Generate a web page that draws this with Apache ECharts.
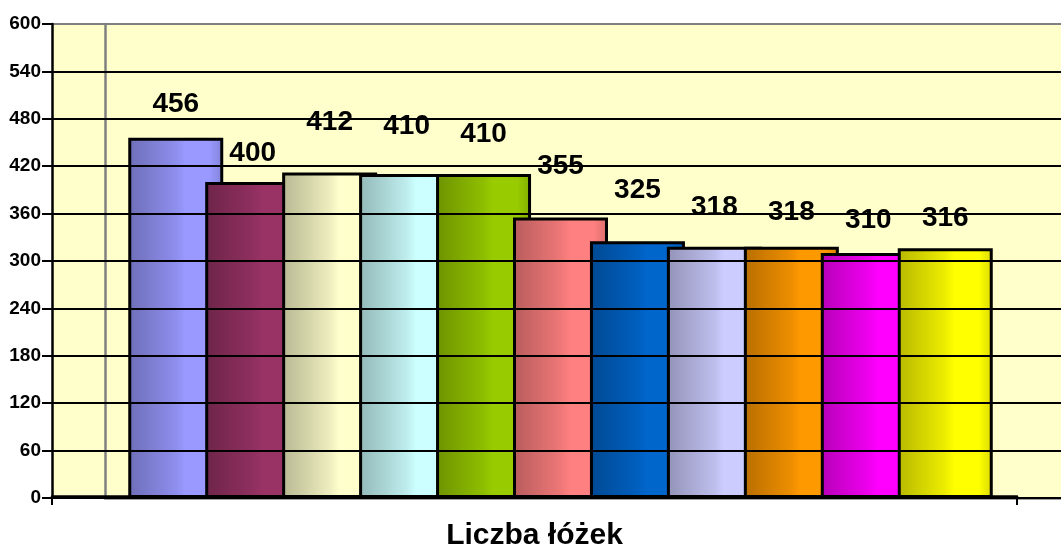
<!DOCTYPE html>
<html>
<head>
<meta charset="utf-8">
<script src="https://cdn.jsdelivr.net/npm/echarts@6/dist/echarts.min.js"></script>
<style>
html,body{margin:0;padding:0;background:#fff;}
#main{width:1061px;height:551px;}
</style>
</head>
<body>
<div id="main"></div>
<script>
// ---- data ----
const categories = ['Liczba łóżek'];
const bedCounts = [456, 400, 412, 410, 410, 355, 325, 318, 318, 310, 316];
const yMin = 0, yMax = 600, yStep = 60;

// ---- styling ----
const barColors = ['#9999FF', '#993366', '#FFFFCC', '#CCFFFF', '#99CC00', '#FF8080',
                   '#0066CC', '#CCCCFF', '#FF9900', '#FF00FF', '#FFFF00'];
const labelDistances = [19, 15, 36, 34, 26, 37, 37, 25, 20, 19, 16];

function shade(hex, f) {
  const n = parseInt(hex.slice(1), 16);
  const r = Math.round(((n >> 16) & 255) * f);
  const g = Math.round(((n >> 8) & 255) * f);
  const b = Math.round((n & 255) * f);
  return 'rgb(' + r + ',' + g + ',' + b + ')';
}
function barGradient(c) {
  return new echarts.graphic.LinearGradient(0, 0, 1, 0, [
    { offset: 0, color: shade(c, 0.72) },
    { offset: 0.5, color: shade(c, 0.93) },
    { offset: 0.6, color: c },
    { offset: 0.85, color: c },
    { offset: 1, color: shade(c, 0.85) }
  ]);
}

const FONT = '"Liberation Sans", Arial, sans-serif';
const splitColors = [];
for (let v = yMin; v <= yMax; v += yStep) splitColors.push(v === yMax ? '#808080' : '#000000');

const series = bedCounts.map((v, i) => ({
  type: 'bar',
  name: 'Seria ' + (i + 1),
  xAxisIndex: 1,
  yAxisIndex: 1,
  data: [v],
  barWidth: 95,
  barGap: '-19%',
  itemStyle: { color: barGradient(barColors[i]), borderColor: '#000', borderWidth: 3 },
  label: {
    show: true, position: 'top', distance: labelDistances[i],
    fontFamily: FONT, fontWeight: 'bold', fontSize: 28, lineHeight: 28, color: '#000'
  },
  emphasis: { disabled: true },
  animation: false
}));

const chart = echarts.init(document.getElementById('main'), null, { renderer: 'canvas' });
chart.setOption({
  backgroundColor: '#ffffff',
  animation: false,
  grid: [
    { left: 52, right: 0, top: 24, bottom: 53, show: true, backgroundColor: '#FFFFCC', borderWidth: 0 },
    { left: 78, width: 965, top: 24, bottom: 53 },
    { left: 52, width: 965, top: 24, bottom: 53 },
    { left: 105, right: 0, top: 24, bottom: 53 }
  ],
  xAxis: [
    { gridIndex: 0, type: 'value', show: false, min: 0, max: 1 },
    { gridIndex: 1, type: 'category', data: categories, show: false },
    {
      gridIndex: 2, type: 'category', data: categories, z: 5,
      axisLine: { show: true, lineStyle: { color: '#000', width: 2.5 } },
      axisTick: { show: true, length: 9, lineStyle: { color: '#000', width: 2 } },
      axisLabel: { margin: 25, fontFamily: FONT, fontWeight: 'bold', fontSize: 30, color: '#000' },
      splitLine: { show: false }
    },
    {
      gridIndex: 3, type: 'value', min: 0, max: 1, z: 1,
      axisLine: { show: true, onZero: false, lineStyle: { color: '#808080', width: 2.5 } },
      axisTick: { show: false }, axisLabel: { show: false }, splitLine: { show: false }
    }
  ],
  yAxis: [
    {
      gridIndex: 0, type: 'value', min: yMin, max: yMax, interval: yStep, z: 6,
      axisLine: { show: true, lineStyle: { color: '#000', width: 2.5 } },
      axisTick: { show: true, length: 10, lineStyle: { color: '#000', width: 2 } },
      axisLabel: { margin: 11, fontFamily: FONT, fontWeight: 'bold', fontSize: 19, color: '#000' },
      splitLine: { show: true, lineStyle: { color: splitColors, width: 2 } }
    },
    { gridIndex: 1, type: 'value', min: yMin, max: yMax, show: false },
    { gridIndex: 2, type: 'value', min: yMin, max: yMax, show: false },
    {
      gridIndex: 3, type: 'value', min: yMin, max: yMax, z: 1,
      axisLine: { show: true, onZero: false, lineStyle: { color: '#808080', width: 2.5 } },
      axisTick: { show: false }, axisLabel: { show: false }, splitLine: { show: false }
    }
  ],
  series: series
});
</script>
</body>
</html>
